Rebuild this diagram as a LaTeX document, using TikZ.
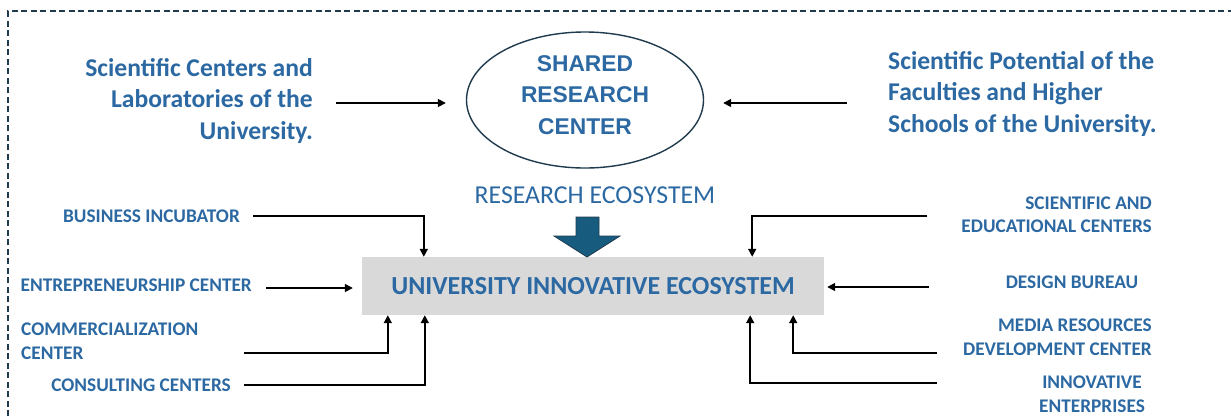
\documentclass[tikz,border=0pt]{standalone}
\usepackage{fontspec}
\setmainfont{Carlito}
\newfontfamily\arialf{Liberation Sans}
\usetikzlibrary{arrows.meta,shapes.geometric,calc}
\definecolor{txtblue}{HTML}{2C69A3}
\definecolor{frame}{HTML}{1F3B4D}
\definecolor{bigarr}{HTML}{175C7F}
\definecolor{boxgray}{HTML}{D9D9D9}
\begin{document}
\begin{tikzpicture}[x=1pt,y=-1pt,
  lbl/.style={text=txtblue,font=\fontsize{19.3}{23.5}\selectfont\bfseries,inner sep=0pt,align=center},
  biglbl/.style={text=txtblue,font=\fontsize{25.6}{31.2}\selectfont\bfseries,inner sep=0pt},
  conn/.style={line width=1.6pt,black},
  arr/.style={conn,-{Triangle[length=8pt,width=8pt]}}]
\useasboundingbox (0,0) rectangle (1231,416);
\fill[white] (0,0) rectangle (1231,416);
% dashed frame
\draw[frame,line width=1.5pt,dash pattern=on 6pt off 3.5pt] (8,416) -- (8,11) -- (1231,11);
% top row
\node[biglbl,anchor=east,align=right] (scl) at (313,101) {Scientific Centers and\\Laboratories of the\\University.};
\node[ellipse,draw=frame,line width=1.4pt,minimum width=237,minimum height=136,inner sep=0pt] (src) at (585,100) {};
\node[text=txtblue,align=center,inner sep=0pt,font=\arialf\fontsize{22.8}{31.5}\selectfont\bfseries] (srct) at (585,95) {SHARED\\RESEARCH\\CENTER};
\node[biglbl,anchor=west,align=left] (sp) at (888,94) {Scientific Potential of the\\Faculties and Higher\\Schools of the University.};
\coordinate (sclS) at (336,103);
\coordinate (spS) at (847,103);
\draw[arr] (sclS) -- ([xshift=-20pt]src.west |- sclS);
\draw[arr] (spS) -- ([xshift=19pt]src.east |- spS);
% research ecosystem
\node[text=txtblue,font=\fontsize{25.8}{30}\selectfont,inner sep=0pt] (re) at (595,195) {RESEARCH ECOSYSTEM};
% main box
\node[fill=boxgray,minimum width=462,minimum height=58,inner sep=0pt,text=txtblue,
  font=\fontsize{26}{30}\selectfont\bfseries] (box) at (593,286) {UNIVERSITY INNOVATIVE ECOSYSTEM};
% big arrow
\fill[bigarr,draw=frame,line width=0.8pt] (576,217) -- (599,217) -- (599,236) -- (620,236) -- (587,257) -- (554,236) -- (576,236) -- cycle;
% left labels
\node[lbl,anchor=east] (bi) at (240,216) {BUSINESS INCUBATOR};
\node[lbl,anchor=east] (ec) at (252,285) {ENTREPRENEURSHIP CENTER};
\node[lbl,anchor=west,align=left] (cc) at (21,341) {COMMERCIALIZATION\\CENTER};
\node[lbl,anchor=east] (cs) at (231,385) {CONSULTING CENTERS};
\coordinate (biS) at (253,216);
\coordinate (ecS) at (266,288);
\coordinate (ccS) at (244,353);
\coordinate (csS) at (244,385);
\draw[arr] (biS) -| ([xshift=62pt]box.north west);
\draw[arr] (ecS) -- ([xshift=-9pt]box.west |- ecS);
\draw[arr] (ccS) -| ([xshift=26pt]box.south west);
\draw[arr] (csS) -| ([xshift=63pt]box.south west);
% right labels
\node[lbl,anchor=east,align=right] (se) at (1152,214.5) {SCIENTIFIC AND\\EDUCATIONAL CENTERS};
\node[lbl] (db) at (1072,282) {DESIGN BUREAU};
\node[lbl,anchor=east,align=right] (mr) at (1152,337) {MEDIA RESOURCES\\DEVELOPMENT CENTER};
\node[lbl] (ie) at (1092,394) {INNOVATIVE\\ENTERPRISES};
\coordinate (seS) at (927,216);
\coordinate (dbS) at (929,287);
\coordinate (mrS) at (937,353);
\coordinate (ieS) at (937,383);
\draw[arr] (seS) -| ([xshift=-72pt]box.north east);
\draw[arr] (dbS) -- ([xshift=3pt]box.east |- dbS);
\draw[arr] (mrS) -| ([xshift=-31pt]box.south east);
\draw[arr] (ieS) -| ([xshift=-74pt]box.south east);
\end{tikzpicture}
\end{document}
